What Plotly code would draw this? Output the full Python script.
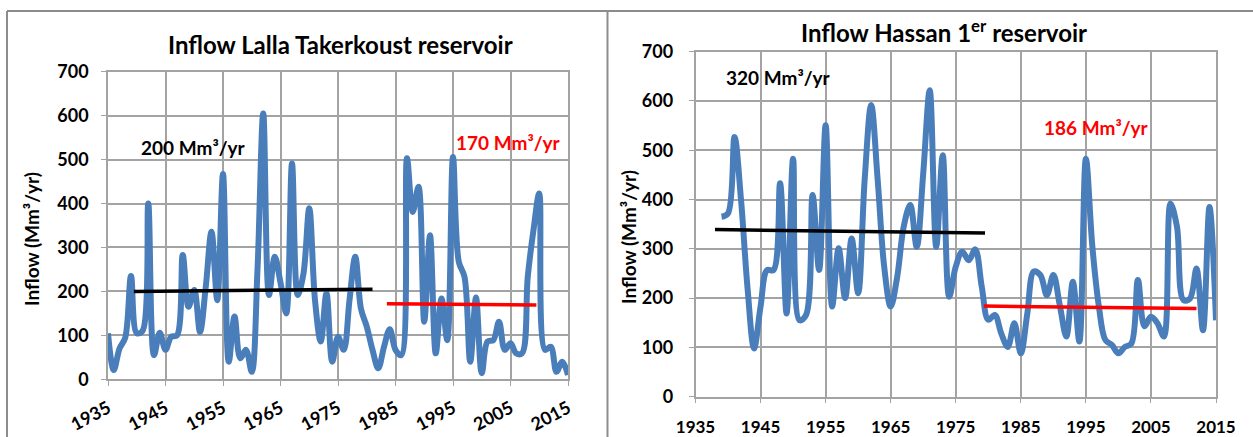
import plotly.graph_objects as go

# ---------------- data ----------------
years_lt = list(range(1935, 2016))
inflow_lt = [105, 21, 70, 95, 235, 105, 110, 400, 55, 106,
             67, 97, 100, 283, 165, 203, 108, 210, 336, 180,
             467, 40, 143, 48, 67, 17, 250, 605, 192, 279,
             220, 150, 491, 192, 241, 389, 180, 86, 196, 40,
             97, 67, 180, 279, 160, 120, 67, 25, 74, 114,
             67, 55, 503, 381, 438, 131, 328, 59, 184, 89,
             506, 268, 233, 40, 186, 14, 86, 89, 131, 67,
             82, 59, 59, 233, 340, 423, 67, 74, 17, 40, 10]

years_h = list(range(1939, 2016))
inflow_h = [365, 372, 527, 399, 220, 98, 183, 257, 257, 433,
            169, 483, 155, 166, 409, 257, 551, 183, 301, 200,
            321, 210, 440, 592, 440, 264, 183, 243, 345, 389,
            304, 453, 622, 304, 490, 203, 264, 294, 277, 299,
            223, 156, 166, 128, 101, 149, 88, 169, 254, 247,
            206, 247, 185, 122, 233, 112, 483, 304, 183, 115,
            105, 88, 101, 108, 237, 143, 162, 149, 122, 392,
            345, 196, 199, 260, 135, 385, 155]

# trend (mean) segments
lt_black_x = [1939.5, 1981]
lt_black_y = [200, 205]
lt_red_x = [1983.5, 2009.5]
lt_red_y = [172, 169]
h_black_x = [1938, 1979.5]
h_black_y = [339, 332]
h_red_x = [1979.3, 2012]
h_red_y = [184, 179]

tick_years = [1935, 1945, 1955, 1965, 1975, 1985, 1995, 2005, 2015]
tick_vals_y = [0, 100, 200, 300, 400, 500, 600, 700]

W, H = 1253, 437
FONT = "Lato"
BLUE = "#4a7ebb"
GRID = "#a3a3a3"

fig = go.Figure()

fig.add_trace(go.Scatter(x=years_lt, y=inflow_lt, mode="lines",
                         line=dict(color=BLUE, width=6, shape="spline", smoothing=1),
                         xaxis="x", yaxis="y", showlegend=False, hoverinfo="skip"))
fig.add_trace(go.Scatter(x=lt_black_x, y=lt_black_y, mode="lines",
                         line=dict(color="black", width=3.5),
                         xaxis="x", yaxis="y", showlegend=False))
fig.add_trace(go.Scatter(x=lt_red_x, y=lt_red_y, mode="lines",
                         line=dict(color="#ff0000", width=3.5),
                         xaxis="x", yaxis="y", showlegend=False))

fig.add_trace(go.Scatter(x=years_h, y=inflow_h, mode="lines",
                         line=dict(color=BLUE, width=6, shape="spline", smoothing=1),
                         xaxis="x2", yaxis="y2", showlegend=False, hoverinfo="skip"))
fig.add_trace(go.Scatter(x=h_black_x, y=h_black_y, mode="lines",
                         line=dict(color="black", width=3.5),
                         xaxis="x2", yaxis="y2", showlegend=False))
fig.add_trace(go.Scatter(x=h_red_x, y=h_red_y, mode="lines",
                         line=dict(color="#ff0000", width=3.5),
                         xaxis="x2", yaxis="y2", showlegend=False))


def px_x(p):
    return p / W


def px_y(p):
    return 1 - p / H


xtickfont_l = dict(family=FONT, size=18, color="black", weight="bold")
xtickfont_r = dict(family=FONT, size=17, color="black", weight="bold")
ytickfont = dict(family=FONT, size=18, color="black", weight="bold")

common_x = dict(range=[1935, 2015], tickvals=tick_years, showgrid=True, gridcolor=GRID,
                gridwidth=1.5, showline=True, linecolor=GRID, linewidth=1.5, mirror=True,
                ticks="outside", ticklen=5, tickcolor=GRID,
                zeroline=False, automargin=False)
common_y = dict(range=[0, 700], tickvals=tick_vals_y, showgrid=True, gridcolor=GRID,
                gridwidth=1.5, showline=True, linecolor=GRID, linewidth=1.5, mirror=True,
                ticks="outside", ticklen=5, tickcolor=GRID, tickfont=ytickfont,
                zeroline=False, automargin=False)

fig.update_layout(
    width=W, height=H, margin=dict(l=0, r=0, t=0, b=0, autoexpand=False),
    paper_bgcolor="white", plot_bgcolor="white",
    xaxis=dict(common_x, domain=[px_x(108), px_x(568)], anchor="y", tickangle=-28,
               tickfont=xtickfont_l, ticklabelstandoff=5),
    yaxis=dict(common_y, domain=[px_y(379.3), px_y(71.7)], anchor="x", ticklabelstandoff=9),
    xaxis2=dict(common_x, domain=[px_x(695.5), px_x(1216)], anchor="y2", tickangle=0,
                tickfont=xtickfont_r, ticklabelstandoff=9),
    yaxis2=dict(common_y, domain=[px_y(396.7), px_y(51.7)], anchor="x2", ticklabelstandoff=12),
)

ann = []
ann.append(dict(text="Inflow Lalla Takerkoust reservoir", x=px_x(340), y=px_y(44),
                font=dict(family=FONT, size=24, color="black", weight="bold")))
ann.append(dict(text="Inflow Hassan 1<sup>er</sup> reservoir", x=px_x(944), y=px_y(31),
                font=dict(family=FONT, size=24, color="black", weight="bold")))
ann.append(dict(text="Inflow (Mm³/yr)", x=px_x(31), y=px_y(239), textangle=-90,
                font=dict(family=FONT, size=19, color="black", weight="bold")))
ann.append(dict(text="Inflow (Mm³/yr)", x=px_x(628), y=px_y(237), textangle=-90,
                font=dict(family=FONT, size=19, color="black", weight="bold")))
ann.append(dict(text="200 Mm³/yr", x=px_x(193), y=px_y(147),
                font=dict(family=FONT, size=19, color="black", weight="bold")))
ann.append(dict(text="170 Mm³/yr", x=px_x(508), y=px_y(142),
                font=dict(family=FONT, size=19, color="#ff0000", weight="bold")))
ann.append(dict(text="320 Mm³/yr", x=px_x(778), y=px_y(78),
                font=dict(family=FONT, size=19, color="black", weight="bold")))
ann.append(dict(text="186 Mm³/yr", x=px_x(1096), y=px_y(127),
                font=dict(family=FONT, size=19, color="#ff0000", weight="bold")))
for a in ann:
    a.update(xref="paper", yref="paper", showarrow=False, xanchor="center", yanchor="middle")
fig.update_layout(annotations=ann)

FRAME = "#8c8c8c"
shapes = [
    dict(type="line", x0=px_x(7), x1=1, y0=px_y(11), y1=px_y(11)),
    dict(type="line", x0=px_x(7), x1=px_x(7), y0=px_y(11), y1=0),
    dict(type="line", x0=px_x(607.5), x1=px_x(607.5), y0=px_y(11), y1=0),
]
for s in shapes:
    s.update(xref="paper", yref="paper", line=dict(color=FRAME, width=2))
fig.update_layout(shapes=shapes)

fig.write_html("out.html")
